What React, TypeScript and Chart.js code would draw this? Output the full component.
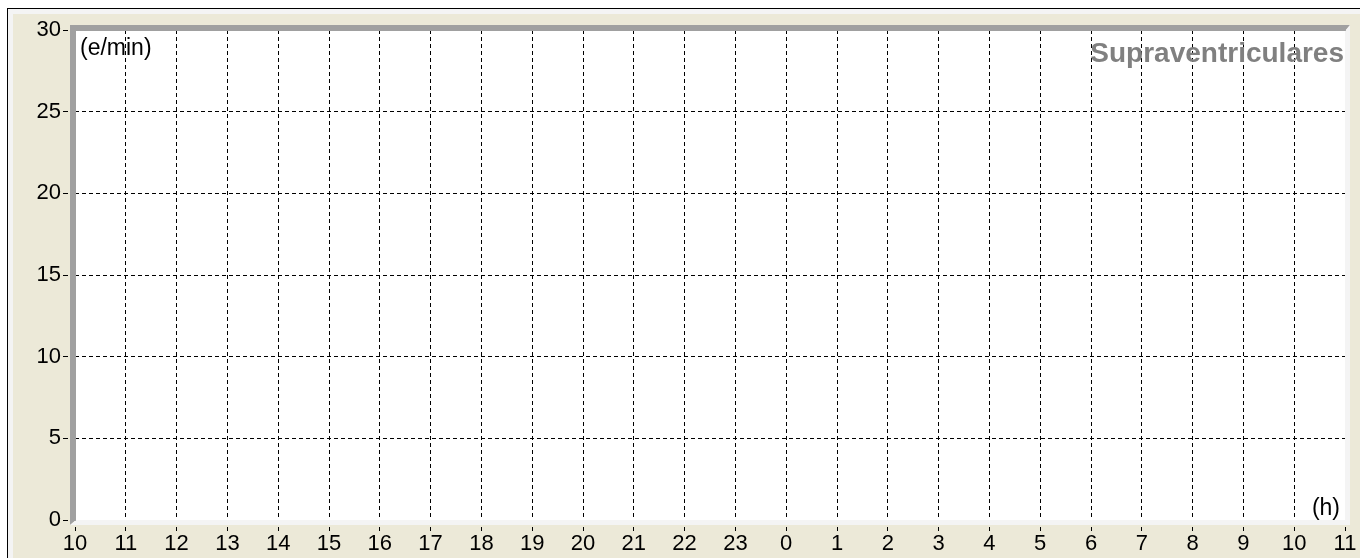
import React, { useEffect, useRef } from 'react';
import { Chart, registerables } from 'chart.js';

Chart.register(...registerables);

// ---- data ----
const hourLabels: string[] = [
  '10', '11', '12', '13', '14', '15', '16', '17', '18', '19', '20', '21', '22',
  '23', '0', '1', '2', '3', '4', '5', '6', '7', '8', '9', '10', '11',
];
// No supraventricular events were plotted in the reference (empty series)
const supraventricularValues: (number | null)[] = [];
const yMin = 0;
const yMax = 30;
const yStep = 5;
const chartTitle = 'Supraventriculares';
const yUnitLabel = '(e/min)';
const xUnitLabel = '(h)';

const FONT = '"Liberation Sans", Arial, Helvetica, sans-serif';
const BEIGE = '#ECE9D8';

const framePlugin = {
  id: 'holterFrame',
  beforeDraw(chart: any) {
    const { ctx, width, height, chartArea: a } = chart;
    ctx.save();
    ctx.fillStyle = '#ffffff';
    ctx.fillRect(0, 0, width, height);
    ctx.fillStyle = '#000000';
    ctx.fillRect(7, 8, width - 7, height - 8);
    ctx.fillStyle = '#F4F4F4';
    ctx.fillRect(8, 9, width - 8, height - 9);
    ctx.fillStyle = BEIGE;
    ctx.fillRect(13, 14, width - 13, height - 14);
    ctx.fillStyle = '#ffffff';
    ctx.fillRect(a.left, a.top, a.right - a.left, a.bottom - a.top);
    ctx.restore();
  },
  afterDraw(chart: any) {
    const { ctx, chartArea: a } = chart;
    const x0 = a.left - 5, y0 = a.top - 5, x1 = a.right + 5, y1 = a.bottom + 5;
    const ix0 = a.left + 1, iy0 = a.top + 1, ix1 = a.right, iy1 = a.bottom;
    ctx.save();
    // gap between tick marks and frame
    ctx.fillStyle = BEIGE;
    ctx.fillRect(x0 - 2, y0, 2, y1 - y0 + 2);
    ctx.fillRect(x0 - 2, y1, x1 - x0 + 4, 2);
    // sunken 3D frame
    ctx.fillStyle = '#A0A0A0';
    ctx.beginPath();
    ctx.moveTo(x0, y0);
    ctx.lineTo(x1, y0);
    ctx.lineTo(ix1, iy0);
    ctx.lineTo(ix0, iy0);
    ctx.lineTo(ix0, iy1);
    ctx.lineTo(x0, y1);
    ctx.closePath();
    ctx.fill();
    ctx.fillStyle = '#F4F4F4';
    ctx.beginPath();
    ctx.moveTo(x1, y0);
    ctx.lineTo(x1, y1);
    ctx.lineTo(x0, y1);
    ctx.lineTo(ix0, iy1);
    ctx.lineTo(ix1, iy1);
    ctx.lineTo(ix1, iy0);
    ctx.closePath();
    ctx.fill();

    // texts
    ctx.fillStyle = '#000000';
    ctx.font = `23px ${FONT}`;
    ctx.textBaseline = 'alphabetic';
    ctx.textAlign = 'left';
    ctx.fillText(yUnitLabel, a.left + 5, a.top + 25);
    ctx.textAlign = 'right';
    ctx.fillText(xUnitLabel, a.right - 5, a.bottom - 5);
    ctx.fillStyle = '#808080';
    ctx.font = `bold 28px ${FONT}`;
    ctx.fillText(chartTitle, a.right - 1, a.top + 32);
    ctx.restore();
  },
};

export default function App() {
  const canvasRef = useRef<HTMLCanvasElement | null>(null);

  useEffect(() => {
    const canvas = canvasRef.current;
    if (!canvas) return;
    const chart = new Chart(canvas, {
      type: 'line',
      data: {
        labels: hourLabels,
        datasets: [
          {
            label: chartTitle,
            data: supraventricularValues,
            borderColor: '#000000',
            pointRadius: 0,
          },
        ],
      },
      options: {
        responsive: false,
        animation: false,
        devicePixelRatio: 1,
        layout: { padding: { left: 0, top: 30, right: 15, bottom: 0 } },
        plugins: {
          legend: { display: false },
          tooltip: { enabled: false },
          title: { display: false },
        },
        scales: {
          x: {
            type: 'category',
            offset: false,
            grid: {
              color: '#000000',
              lineWidth: 1,
              drawTicks: true,
              tickLength: 11,
              tickColor: '#000000',
              offset: false,
            },
            border: { display: false, dash: [4, 3] },
            ticks: {
              color: '#000000',
              font: { family: FONT, size: 22 },
              padding: 0,
              maxRotation: 0,
              autoSkip: false,
            },
            afterFit: (scale: any) => {
              scale.height = 38;
            },
          },
          y: {
            type: 'linear',
            min: yMin,
            max: yMax,
            grid: {
              color: '#000000',
              lineWidth: 1,
              drawTicks: true,
              tickLength: 12,
              tickColor: '#000000',
            },
            border: { display: false, dash: [4, 3] },
            ticks: {
              stepSize: yStep,
              color: '#000000',
              font: { family: FONT, size: 22 },
              padding: 2,
            },
            afterFit: (scale: any) => {
              scale.width = 75;
            },
          },
        },
      },
      plugins: [framePlugin],
    });
    return () => chart.destroy();
  }, []);

  return (
    <div style={{ position: 'absolute', left: 0, top: 0, width: 1360, height: 558 }}>
      <canvas ref={canvasRef} width={1360} height={558} style={{ display: 'block' }} />
    </div>
  );
}
